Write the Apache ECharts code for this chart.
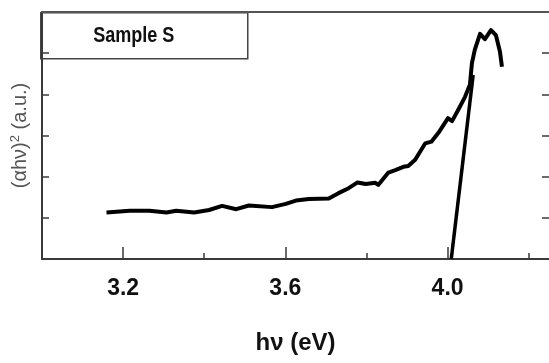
<!DOCTYPE html>
<html>
<head>
<meta charset="utf-8">
<script src="https://cdn.jsdelivr.net/npm/echarts@6/dist/echarts.min.js"></script>
<style>html,body{margin:0;padding:0;background:#fff;}#c{width:549px;height:363px;}</style>
</head>
<body>
<div id="c"></div>
<script>
// photon energy (eV) and (alpha h nu)^2 (a.u.)
var hv = [3.159,3.216,3.265,3.307,3.331,3.375,3.412,3.444,3.479,3.510,3.567,3.601,3.626,3.658,3.707,3.731,3.756,3.778,3.798,3.822,3.829,3.854,3.871,3.891,3.903,3.920,3.945,3.960,3.977,4.001,4.011,4.026,4.043,4.055,4.060,4.067,4.080,4.092,4.107,4.119,4.129,4.134];
var absorb = [1.13,1.17,1.17,1.13,1.17,1.13,1.19,1.29,1.21,1.30,1.26,1.34,1.42,1.46,1.47,1.60,1.72,1.86,1.82,1.85,1.80,2.10,2.16,2.24,2.26,2.41,2.81,2.85,3.06,3.42,3.35,3.62,3.94,4.23,4.76,5.08,5.47,5.34,5.56,5.44,5.04,4.67];
// linear extrapolation (Tauc fit)
var fitX = [4.009, 4.063];
var fitY = [0, 4.47];
var majorTicks = [3.2, 3.6, 4.0];
var minorTicks = [3.4, 3.8, 4.2];
var yTicks = [1, 2, 3, 4, 5];
var sampleName = 'Sample S';

function pairs(xs, ys){ return xs.map(function(x,i){ return [x, ys[i]]; }); }

var chart = echarts.init(document.getElementById('c'), null, {renderer:'canvas'});
var axisCol = '#3a3a3a';
chart.setOption({
  animation:false,
  grid:{left:42, right:-2, top:12, bottom:104},
  xAxis:[
    {type:'value', min:3.0, max:4.25, position:'bottom',
     name:'hν (eV)', nameLocation:'middle', nameGap:72,
     nameTextStyle:{fontFamily:'Liberation Sans, Arial, sans-serif', fontWeight:'bold', fontSize:24, color:'#111'},
     axisLine:{show:true, lineStyle:{color:axisCol, width:2}},
     axisTick:{show:true, inside:true, length:12, customValues:majorTicks, lineStyle:{color:axisCol, width:1.5}},
     axisLabel:{show:true, customValues:majorTicks, margin:18, fontFamily:'Liberation Sans, Arial, sans-serif', fontWeight:'bold', fontSize:23, color:'#111',
       formatter:function(v){ return v.toFixed(1); }},
     splitLine:{show:false}},
    {type:'value', min:3.0, max:4.25, position:'bottom',
     axisLine:{show:false},
     axisTick:{show:true, inside:true, length:6, customValues:minorTicks, lineStyle:{color:axisCol, width:1.5}},
     axisLabel:{show:false}, splitLine:{show:false}},
    {type:'value', min:3.0, max:4.25, position:'top',
     axisLine:{show:true, lineStyle:{color:'#555', width:2}},
     axisTick:{show:false}, axisLabel:{show:false}, splitLine:{show:false}}
  ],
  yAxis:[
    {type:'value', min:0, max:6, interval:1, position:'left',
     name:'{b|(αhν)}{s|2}{b| (a.u.)}', nameLocation:'middle', nameGap:11,
     nameTextStyle:{fontFamily:'Liberation Sans, Arial, sans-serif', fontSize:20, color:'#555',
       rich:{b:{fontFamily:'Liberation Sans, Arial, sans-serif', fontSize:20, color:'#555'},
             s:{fontFamily:'Liberation Sans, Arial, sans-serif', fontSize:13, color:'#555', verticalAlign:'top', padding:[0,0,9,0]}}},
     axisLine:{show:true, lineStyle:{color:axisCol, width:2}},
     axisTick:{show:true, inside:true, length:7, customValues:yTicks, lineStyle:{color:axisCol, width:1.5}},
     axisLabel:{show:false}, splitLine:{show:false}},
    {type:'value', min:0, max:6, interval:1, position:'right',
     axisLine:{show:false},
     axisTick:{show:true, inside:true, length:7, customValues:yTicks, lineStyle:{color:axisCol, width:1.5}},
     axisLabel:{show:false}, splitLine:{show:false}}
  ],
  graphic:[
    {type:'group', left:40, top:12, z:100, children:[
      {type:'rect', shape:{x:0, y:0, width:207, height:46}, style:{fill:'#fff', stroke:'#444', lineWidth:1.5}},
      {type:'text', x:93, y:23, scaleX:0.82, style:{text:sampleName, fill:'#111', fontFamily:'Liberation Sans, Arial, sans-serif', fontWeight:'bold', fontSize:22, align:'center', verticalAlign:'middle'}}
    ]}
  ],
  series:[
    {name:sampleName, type:'line', data:pairs(hv, absorb), showSymbol:false, symbol:'none', smooth:false,
     lineStyle:{color:'#000', width:4, join:'round'}},
    {name:'fit', type:'line', data:pairs(fitX, fitY), showSymbol:false, symbol:'none',
     lineStyle:{color:'#000', width:3.5}}
  ]
});
</script>
</body>
</html>
